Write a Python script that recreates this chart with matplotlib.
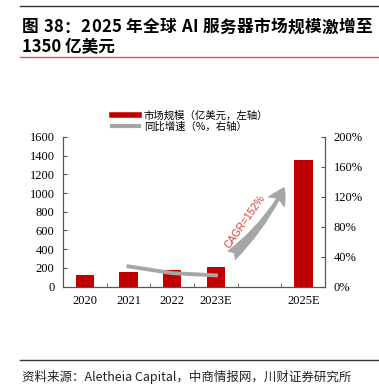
import numpy as np
import matplotlib.pyplot as plt
from matplotlib.lines import Line2D
from matplotlib.ticker import FuncFormatter

plt.rcParams['font.family'] = ['Noto Sans CJK SC', 'DejaVu Sans']

# Data
years = ["2020", "2021", "2022", "2023E", "", "2025E"]
market = [120, 154, 181, 210, None, 1350]   # 亿美元
growth = [None, 27, 18, 15, None, None]      # %
cagr_text = "CAGR=152%"
title1 = "图 38：2025 年全球 AI 服务器市场规模激增至"
title2 = "1350 亿美元"
source = "资料来源：Aletheia Capital，中商情报网，川财证券研究所"

red = "#C00000"
grey = "#A6A6A6"
serif = "Liberation Serif"

fig = plt.figure(figsize=(3.79, 3.91), dpi=100)
ax = fig.add_axes([0.166, 0.267, 0.692, 0.383])
ax2 = ax.twinx()

x = np.arange(len(years))
bx = [i for i, v in zip(x, market) if v is not None]
bv = [v for v in market if v is not None]
ax.bar(bx, bv, width=0.42, color=red, zorder=2)

gx = [i for i, v in zip(x, growth) if v is not None]
gv = [v for v in growth if v is not None]
ax2.plot(gx, gv, color=grey, lw=2.8, zorder=3)

ax.set_xlim(-0.5, 5.5)
ax.set_ylim(0, 1600)
ax.set_yticks(range(0, 1601, 200))
ax2.set_ylim(0, 200)
ax2.set_yticks(range(0, 201, 40))
ax2.yaxis.set_major_formatter(FuncFormatter(lambda v, p: f"{v:.0f}%"))

ax.set_xticks(x)
ax.set_xticklabels(years)
ax.set_xticks(np.arange(-0.5, 5.6, 1), minor=True)
ax.tick_params(axis='x', which='major', length=0, pad=6)
ax.tick_params(axis='x', which='minor', direction='in', length=3, color='#555555')

for a in (ax, ax2):
    a.spines['top'].set_visible(False)
    for s in a.spines.values():
        s.set_color('#555555')
        s.set_linewidth(0.8)
    a.tick_params(axis='y', direction='in', length=3, color='#555555', pad=6)
    for lab in a.get_yticklabels() + a.get_xticklabels():
        lab.set_fontfamily(serif)
        lab.set_fontsize(9)

# CAGR arrow
ax.annotate("", xy=(4.6, 1090), xytext=(3.3, 310),
            arrowprops=dict(arrowstyle="fancy,head_length=0.8,head_width=0.9,tail_width=0.55",
                            connectionstyle="arc3,rad=0.1", color=grey, lw=0,
                            mutation_scale=16), zorder=4)
ax.text(3.66, 690, cagr_text, rotation=55, color="#D93B3B", fontsize=7.5,
        fontfamily="Liberation Sans", ha='center', va='center', zorder=5)

# Legend
handles = [Line2D([0], [0], color=red, lw=4), Line2D([0], [0], color=grey, lw=3)]
labels = ["市场规模（亿美元，左轴）", "同比增速（%，右轴）"]
fig.legend(handles, labels, loc='upper left', bbox_to_anchor=(0.285, 0.728),
           frameon=False, fontsize=7.5, handlelength=2.6, handletextpad=0.45,
           labelspacing=0.1, borderaxespad=0)

# Title (first line justified to full width) and source
fig.add_artist(Line2D([0.053, 1.0], [0.985, 0.985], color='#333333', lw=1))
renderer = fig.canvas.get_renderer()
chars = [fig.text(0, 0.93, c, fontsize=12, fontweight='bold', va='center')
         for c in title1]
widths = [t.get_window_extent(renderer).width for t in chars]
x0, x1 = 22, 372
gap = (x1 - x0 - sum(widths)) / (len(chars) - 1)
pos = x0
for t, w in zip(chars, widths):
    t.set_x(pos / fig.bbox.width)
    pos += w + gap
fig.text(0.058, 0.88, title2, fontsize=12, fontweight='bold', va='center')
fig.add_artist(Line2D([0.053, 1.0], [0.855, 0.855], color='#E05050', lw=1))

fig.add_artist(Line2D([0.053, 1.0], [0.08, 0.08], color='#333333', lw=1))
fig.text(0.058, 0.036, source, fontsize=9, style='italic', va='center', color='#222222')

fig.savefig("out.png", dpi=100)
